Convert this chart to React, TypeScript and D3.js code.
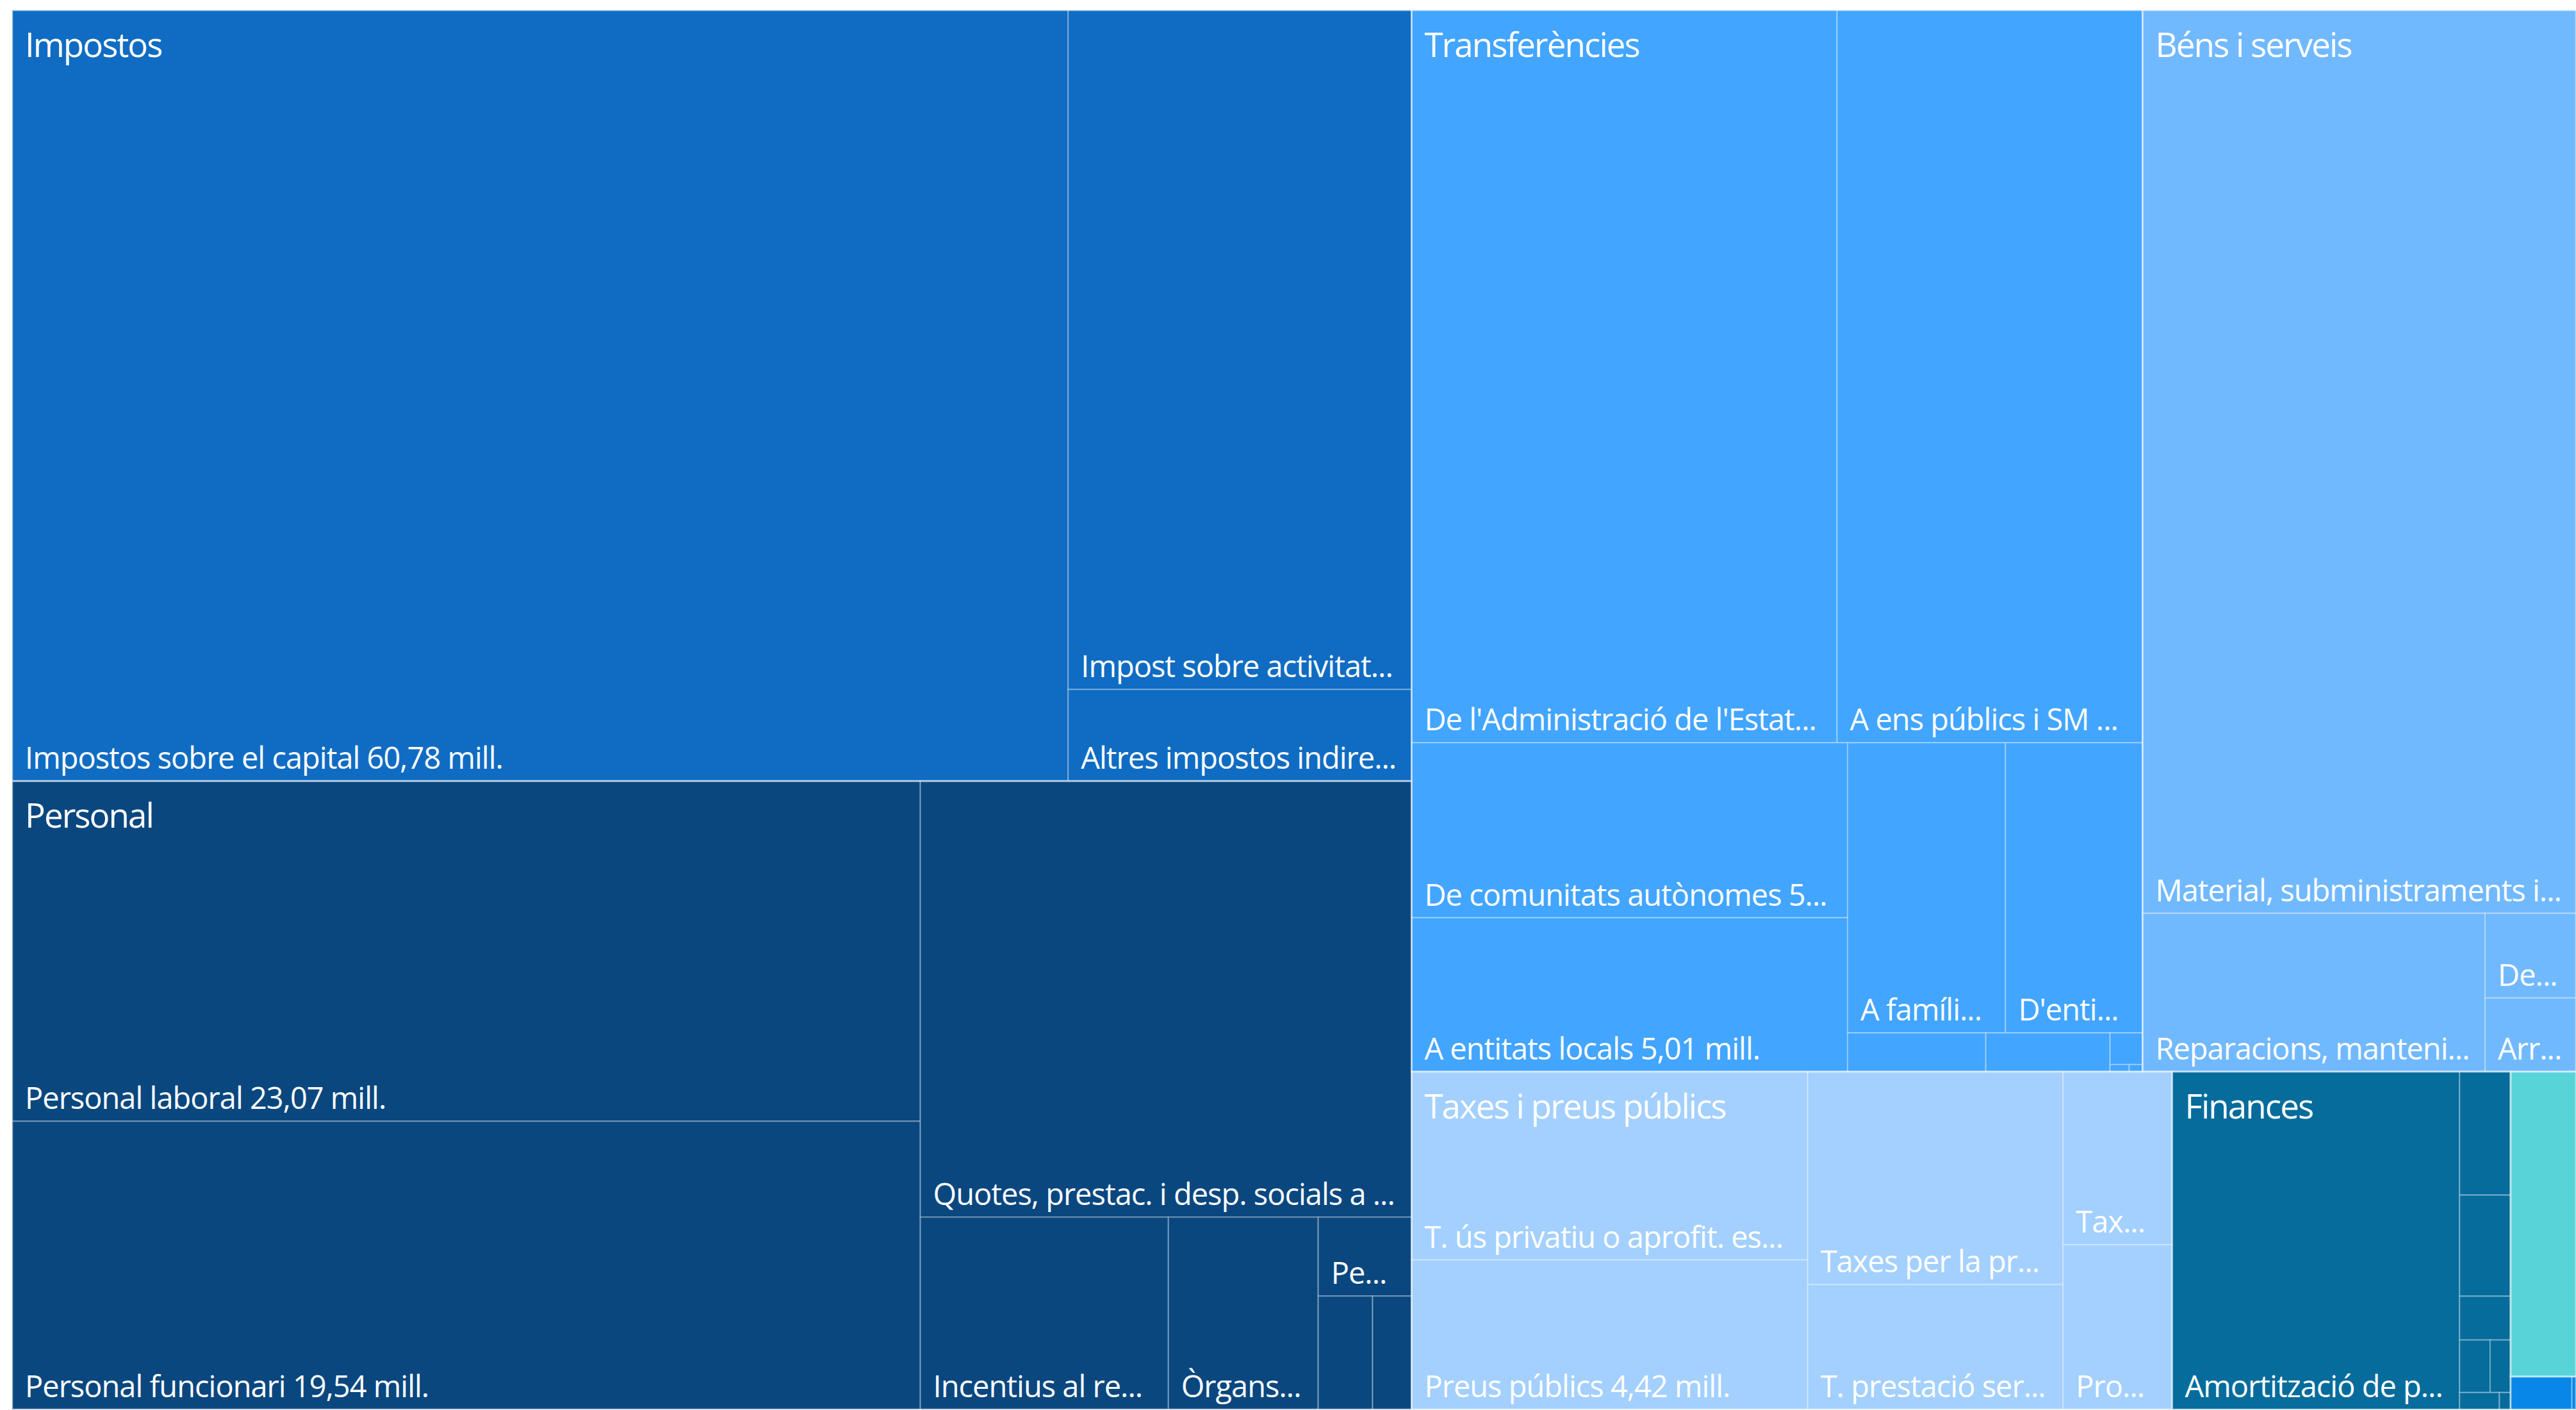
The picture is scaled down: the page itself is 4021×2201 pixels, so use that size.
import { useMemo } from 'react';
import * as d3 from 'd3';

const WIDTH = 4021;
const HEIGHT = 2201;
const AREA = { left: 19, top: 16, right: 4021, bottom: 2200 };

const FONT = '"Segoe UI", "Open Sans", sans-serif';
const GROUP_SIZE = 53;
const LEAF_SIZE = 47;
const GROUP_SPACING = -2;
const LEAF_SPACING = -1;
const PAD_LEFT = 20;
const PAD_RIGHT = 22;

const groupNames = [
  'Impostos', 'Personal', 'Transferències', 'Béns i serveis',
  'Taxes i preus públics', 'Finances', 'Ingressos patrimonials', 'Inversions reals',
];
const groupColors = ['#106CC2', '#0A477F', '#42A5FF', '#71B9FF', '#A3D0FF', '#056C9C', '#58D4D8', '#0887E8'];

// values in millions of euros
const impostos: [string, number][] = [
  ['Impostos sobre el capital', 60.78],
  ['Impost sobre activitats econòmiques', 17.42],
  ['Altres impostos indirectes', 2.35],
];
const personal: [string, number][] = [
  ['Personal laboral', 23.07],
  ['Personal funcionari', 19.54],
  ['Quotes, prestac. i desp. socials a càrrec de l\'ocupador', 16.0],
  ['Incentius al rendiment', 3.56],
  ['Òrgans de govern i personal directiu', 2.15],
  ['Personal eventual', 0.55],
  ['Altres despeses socials', 0.46],
  ['Plans de pensions', 0.33],
];
const transferencies: [string, number][] = [
  ['De l\'Administració de l\'Estat', 23.27],
  ['A ens públics i SM de l\'entitat local', 16.71],
  ['De comunitats autònomes', 5.70],
  ['A entitats locals', 5.01],
  ['A famílies i institucions sense fins de lucre', 3.42],
  ['D\'entitats locals', 2.97],
  ['A comunitats autònomes', 0.40],
  ['De l\'exterior', 0.36],
  ['A l\'exterior', 0.077],
  ['D\'empreses privades', 0.01],
  ['A empreses privades', 0.007],
];
const bensServeis: [string, number][] = [
  ['Material, subministraments i altres', 29.23],
  ['Reparacions, manteniment i conservació', 4.05],
  ['Despeses de publicacions', 0.575],
  ['Arrendaments i cànons', 0.50],
];
const taxes: [string, number][] = [
  ['T. ús privatiu o aprofit. especial del domini públic', 5.57],
  ['Preus públics', 4.42],
  ['Taxes per la prestació de serveis públics', 4.06],
  ['T. prestació serveis públics bàsics', 2.38],
  ['Taxes per la realització d\'activitats', 1.41],
  ['Productes diversos', 1.34],
];
const finances: [string, number][] = [
  ['Amortització de préstecs', 7.25],
  ['Interessos', 0.47],
  ['Passius financers', 0.385],
  ['Actius financers', 0.167],
  ['Dipòsits i fiances', 0.12],
  ['Altres despeses financeres', 0.08],
  ['Reintegrament de préstecs', 0.05],
  ['Comissions', 0.014],
];
const patrimonials: [string, number][] = [
  ['Ingressos patrimonials', 1.49],
];
const inversions: [string, number][] = [
  ['Inversions reals', 0.15],
  ['Alienació d\'inversions', 0.01],
];
const groupItems = [impostos, personal, transferencies, bensServeis, taxes, finances, patrimonials, inversions];

type Node = { name: string; value?: number; group?: number; children?: Node[] };

let ctx: CanvasRenderingContext2D | null = null;
function textWidth(t: string, size: number, spacing: number) {
  if (!ctx) ctx = document.createElement('canvas').getContext('2d');
  if (!ctx) return t.length * size * 0.5;
  ctx.font = `${size}px ${FONT}`;
  return ctx.measureText(t).width + spacing * t.length;
}

function fitText(t: string, avail: number, size: number, spacing: number): string | null {
  if (textWidth(t, size, spacing) <= avail) return t;
  for (let i = t.length - 1; i >= 2; i--) {
    const s = t.slice(0, i) + '...';
    if (textWidth(s, size, spacing) <= avail) return s;
  }
  return null;
}

const fmt = (v: number) => v.toFixed(2).replace('.', ',');

export default function App() {
  const root = useMemo(() => {
    const data: Node = {
      name: 'root',
      children: groupNames.map((g, i) => ({
        name: g,
        children: groupItems[i].map(([name, value]) => ({ name, value, group: i })),
      })),
    };
    const h = d3.hierarchy<Node>(data)
      .sum((d) => d.value ?? 0)
      .sort((a, b) => (b.value ?? 0) - (a.value ?? 0));
    return d3.treemap<Node>()
      .tile(d3.treemapSquarify)
      .size([AREA.right - AREA.left, AREA.bottom - AREA.top])
      .paddingInner(0)(h);
  }, []);

  const groups = root.children ?? [];
  const leaves = root.leaves();

  return (
    <div style={{ position: 'fixed', left: 0, top: 0, width: WIDTH, height: HEIGHT, background: '#fff' }}>
      <svg width={WIDTH} height={HEIGHT} style={{ display: 'block' }} fontFamily={FONT}>
        <g transform={`translate(${AREA.left},${AREA.top})`}>
          {leaves.map((d, i) => (
            <rect key={`r${i}`} x={d.x0} y={d.y0} width={d.x1 - d.x0} height={d.y1 - d.y0}
              fill={groupColors[d.data.group ?? 0]} stroke="rgba(255,255,255,0.28)" strokeWidth={2.2} />
          ))}
          {groups.map((g, i) => (
            <rect key={`g${i}`} x={g.x0} y={g.y0} width={g.x1 - g.x0} height={g.y1 - g.y0}
              fill="none" stroke="rgba(255,255,255,0.3)" strokeWidth={3} />
          ))}
          {leaves.map((d, i) => {
            const w = d.x1 - d.x0, h = d.y1 - d.y0;
            if (h < 100) return null;
            const label = fitText(`${d.data.name} ${fmt(d.data.value ?? 0)} mill.`, w - PAD_LEFT - PAD_RIGHT, LEAF_SIZE, LEAF_SPACING);
            if (!label) return null;
            return (
              <text key={`t${i}`} x={d.x0 + PAD_LEFT} y={d.y1 - 19} fill="#fff"
                fontSize={LEAF_SIZE} letterSpacing={LEAF_SPACING}>{label}</text>
            );
          })}
          {groups.map((g, i) => {
            const w = g.x1 - g.x0, h = g.y1 - g.y0;
            if (h < 160) return null;
            const label = fitText(g.data.name, w - PAD_LEFT - PAD_RIGHT, GROUP_SIZE, GROUP_SPACING);
            if (!label) return null;
            return (
              <text key={`l${i}`} x={g.x0 + PAD_LEFT} y={g.y0 + 73} fill="#fff"
                fontSize={GROUP_SIZE} letterSpacing={GROUP_SPACING}>{label}</text>
            );
          })}
        </g>
      </svg>
    </div>
  );
}
